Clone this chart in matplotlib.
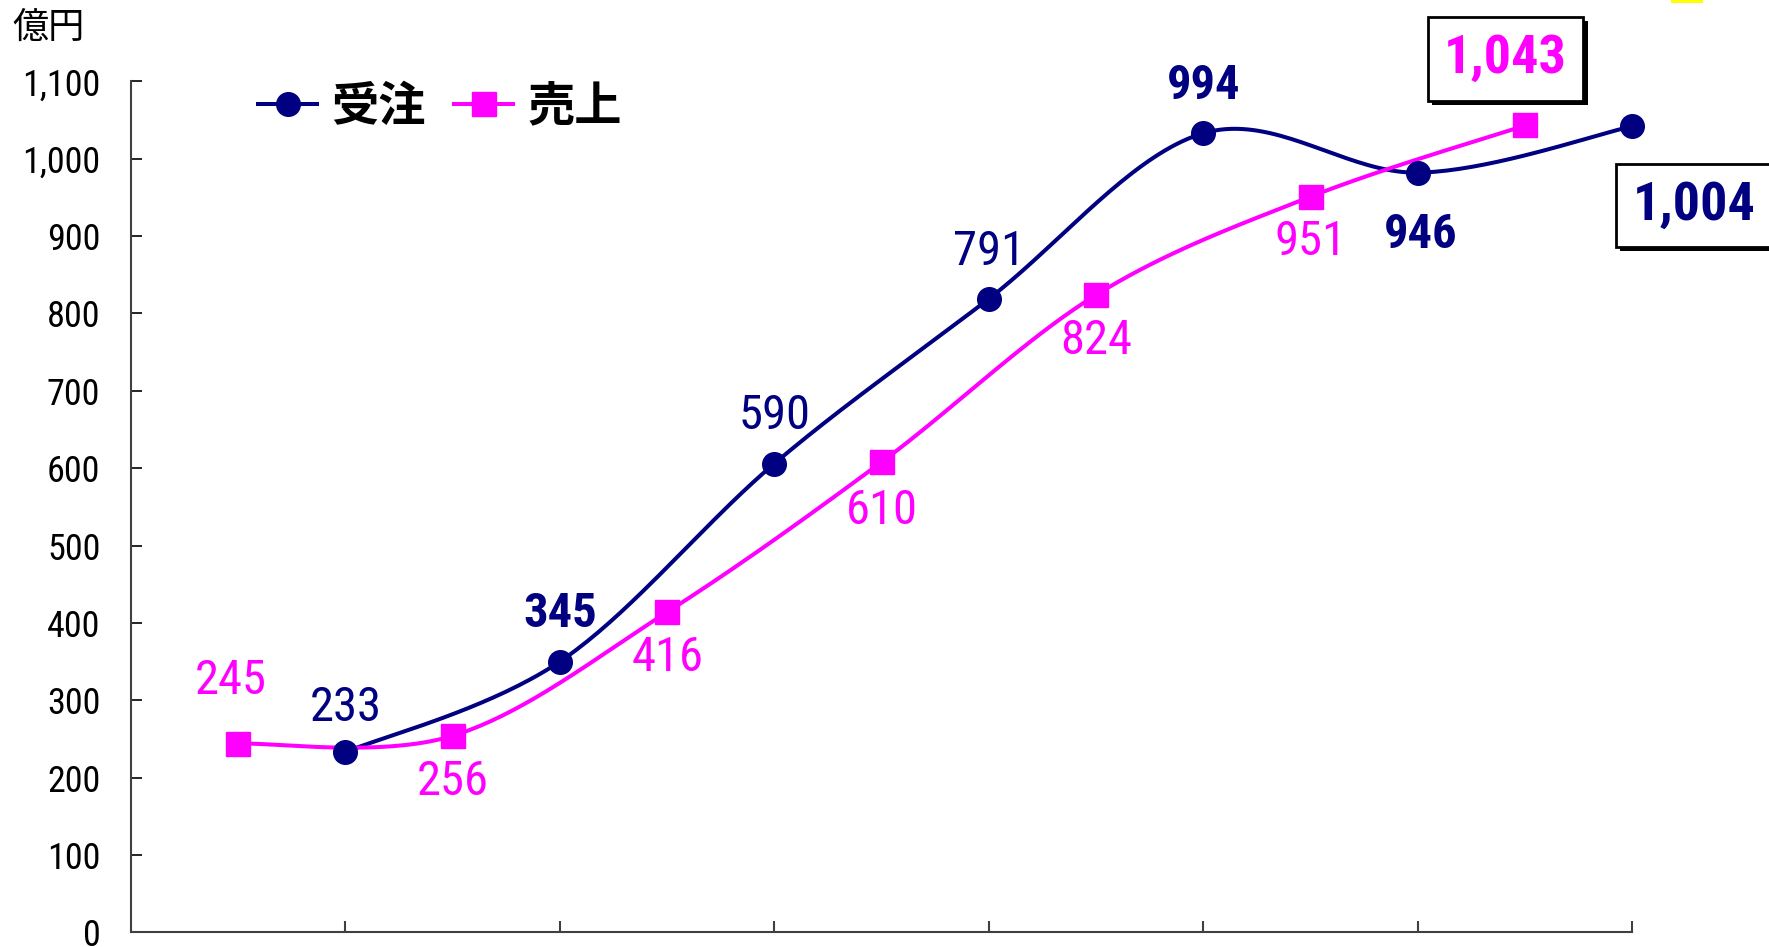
import numpy as np
import matplotlib
matplotlib.use("Agg")
import matplotlib.pyplot as plt
from matplotlib import font_manager
from matplotlib import patheffects
from matplotlib.lines import Line2D
from matplotlib.patches import Rectangle

# data (億円)
juchu_label = "受注"
uriage_label = "売上"
juchu_values = [233, 350, 606, 819, 1033, 982, 1042]
juchu_texts = ["233", "345", "590", "791", "994", "946", "1,004"]
uriage_values = [244, 254, 414, 608, 824, 951, 1043]
uriage_texts = ["245", "256", "416", "610", "824", "951", "1,043"]
y_ticks = [0, 100, 200, 300, 400, 500, 600, 700, 800, 900, 1000, 1100]
y_tick_labels = ["0", "100", "200", "300", "400", "500", "600", "700",
                 "800", "900", "1,000", "1,100"]
unit_label = "億円"

NAVY = "#000080"
MAGENTA = "#FF00FF"

# pick a narrow font for the numbers if there is one
installed = {f.name for f in font_manager.fontManager.ttflist}
num_font = "Noto Sans CJK JP"
for name in ["Liberation Sans Narrow", "DejaVu Sans Condensed", "Roboto Condensed"]:
    if name in installed:
        num_font = name
        break
jp_font = ["Noto Sans CJK JP", "DejaVu Sans"]
plt.rcParams["font.family"] = [num_font, "Noto Sans CJK JP", "DejaVu Sans"]


# smoothed line like the spreadsheet one (Catmull-Rom through the points)
def smooth(xs, ys, n=40):
    x = np.r_[xs[0], xs, xs[-1]].astype(float)
    y = np.r_[ys[0], ys, ys[-1]].astype(float)
    t = np.linspace(0, 1, n)
    out_x, out_y = [], []
    for i in range(1, len(x) - 2):
        for arr, out in ((x, out_x), (y, out_y)):
            p0, p1, p2, p3 = arr[i - 1], arr[i], arr[i + 1], arr[i + 2]
            seg = 0.5 * (2 * p1 + (-p0 + p2) * t
                         + (2 * p0 - 5 * p1 + 4 * p2 - p3) * t ** 2
                         + (-p0 + 3 * p1 - 3 * p2 + p3) * t ** 3)
            out.extend(seg if i == 1 else seg[1:])
    return np.array(out_x), np.array(out_y)


fig = plt.figure(figsize=(17.69, 9.47), dpi=100)
ax = fig.add_axes([0.074, 0.0155, 0.8488, 0.8986])

jx = np.arange(len(juchu_values)) + 1.0
ux = np.arange(len(uriage_values)) + 0.5
LW = 2.9

sx, sy = smooth(jx, juchu_values)
ax.plot(sx, sy, color=NAVY, lw=LW, zorder=2, solid_capstyle="round")
sx, sy = smooth(ux, uriage_values)
ax.plot(sx, sy, color=MAGENTA, lw=LW, zorder=3, solid_capstyle="round")
ax.plot(jx, juchu_values, "o", color=NAVY, ms=17, zorder=4, clip_on=False)
ax.plot(ux, uriage_values, "s", color=MAGENTA, ms=17, zorder=4, clip_on=False)

ax.set_xlim(0, 7)
ax.set_ylim(0, 1100)
ax.set_yticks(y_ticks)
ax.set_yticklabels(y_tick_labels)
ax.set_xticks(jx)
ax.set_xticklabels([])
ax.tick_params(axis="y", direction="in", length=8, width=1.2, pad=22,
               labelsize=26, colors="black")
ax.tick_params(axis="x", direction="in", length=8, width=1.5, color="#404040")
for s in ["top", "right"]:
    ax.spines[s].set_visible(False)
for s in ["left", "bottom"]:
    ax.spines[s].set_linewidth(1.5)
    ax.spines[s].set_color("#404040")

# data labels: (dx, dy) offsets in points, weight
juchu_pos = [(0, 32, "normal"), (0, 34, "semibold"), (0, 34, "normal"),
             (0, 34, "normal"), (0, 34, "semibold"), (2, -45, "semibold")]
uriage_pos = [(-5, 45, "normal"), (0, -33, "normal"), (0, -33, "normal"),
              (0, -35, "normal"), (0, -33, "normal"), (0, -33, "normal")]

for i, (dx, dy, w) in enumerate(juchu_pos):
    ax.annotate(juchu_texts[i], (jx[i], juchu_values[i]), xytext=(dx, dy),
                textcoords="offset points", ha="center", va="center",
                fontsize=35, color=NAVY, fontweight=w)
for i, (dx, dy, w) in enumerate(uriage_pos):
    ax.annotate(uriage_texts[i], (ux[i], uriage_values[i]), xytext=(dx, dy),
                textcoords="offset points", ha="center", va="center",
                fontsize=35, color=MAGENTA, fontweight=w)

# boxed labels for the last values
shadow = [patheffects.SimplePatchShadow(offset=(3, -3), shadow_rgbFace="black", alpha=1),
          patheffects.Normal()]
t1 = ax.annotate(uriage_texts[-1], (ux[-1], uriage_values[-1]), xytext=(-14, 48),
                 textcoords="offset points", ha="center", va="center",
                 fontsize=39, color=MAGENTA, fontweight="bold", annotation_clip=False,
                 bbox=dict(boxstyle="square,pad=0.3", fc="white", ec="black", lw=2))
t2 = ax.annotate(juchu_texts[-1], (jx[-1], juchu_values[-1]), xytext=(0, -57),
                 textcoords="offset points", ha="left", va="center",
                 fontsize=39, color=NAVY, fontweight="bold", annotation_clip=False,
                 bbox=dict(boxstyle="square,pad=0.3", fc="white", ec="black", lw=2))
for t in (t1, t2):
    t.get_bbox_patch().set_path_effects(shadow)

# legend
handles = [Line2D([], [], color=NAVY, lw=LW, marker="o", ms=17),
           Line2D([], [], color=MAGENTA, lw=LW, marker="s", ms=17)]
fig.legend(handles, [juchu_label, uriage_label], loc="center left",
           bbox_to_anchor=(0.146, 0.887), ncol=2, frameon=False,
           handlelength=1.25, handletextpad=0.3, columnspacing=0.6,
           borderpad=0, borderaxespad=0,
           prop=dict(family=jp_font, size=34, weight="bold"))

fig.text(0.007, 0.971, unit_label, family=jp_font, fontsize=26, va="center", ha="left")

# small yellow mark at the top right edge
fig.patches.append(Rectangle((0.9446, 0.9965), 0.018, 0.01, transform=fig.transFigure,
                             facecolor="#FFFF00", edgecolor="none"))

fig.savefig("out.png", dpi=100)
